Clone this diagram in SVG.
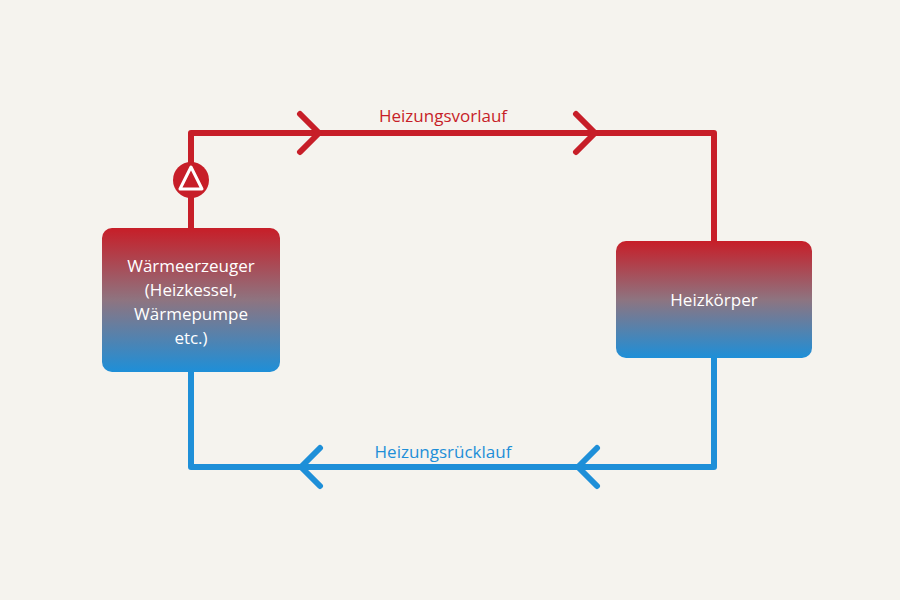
<svg xmlns="http://www.w3.org/2000/svg" width="900" height="600" viewBox="0 0 900 600">
<defs>
<linearGradient id="g" x1="0" y1="0" x2="0" y2="1"><stop offset="0" stop-color="#c71e28"/><stop offset="0.5" stop-color="#8e7480"/><stop offset="1" stop-color="#1e8fd8"/></linearGradient>
<style>
.r{fill:none;stroke:#c71e28;stroke-width:6;stroke-linecap:round;stroke-linejoin:round}
.b{fill:none;stroke:#1e8fd8;stroke-width:6;stroke-linecap:round;stroke-linejoin:round}
.t{font-family:"Open Sans","Liberation Sans",sans-serif;font-size:17px;fill:#fff;text-anchor:middle}
.l{font-family:"Open Sans","Liberation Sans",sans-serif;font-size:17px;text-anchor:middle}
</style>
</defs>
<rect width="900" height="600" fill="#f5f3ee"/>
<g id="connectors">
<path class="r" d="M191 228 V133 H714 V241" style="stroke-linecap:butt"/>
<path class="r" d="M300 114 L319 133 L300 152 M576 114 L595 133 L576 152"/>
<path class="b" d="M191 372 V467 H714 V358" style="stroke-linecap:butt"/>
<path class="b" d="M320 448 L301 467 L320 486 M597 448 L578 467 L597 486"/>
<text class="l" x="443" y="122" fill="#c71e28">Heizungsvorlauf</text>
<text class="l" x="443" y="458" fill="#1e8fd8">Heizungsrücklauf</text>
</g>
<g id="pump">
<circle cx="191" cy="180" r="18" fill="#c71e28"/>
<path d="M191 167 L202 189 H180 Z" fill="none" stroke="#fff" stroke-width="3" stroke-linejoin="round"/>
</g>
<g id="waermeerzeuger">
<rect x="102" y="228" width="178" height="144" rx="10" fill="url(#g)"/>
<text class="t" x="191" y="272">Wärmeerzeuger</text>
<text class="t" x="191" y="296">(Heizkessel,</text>
<text class="t" x="191" y="320">Wärmepumpe</text>
<text class="t" x="191" y="344">etc.)</text>
</g>
<g id="heizkoerper">
<rect x="616" y="241" width="196" height="117" rx="10" fill="url(#g)"/>
<text class="t" x="714" y="306">Heizkörper</text>
</g>
</svg>
